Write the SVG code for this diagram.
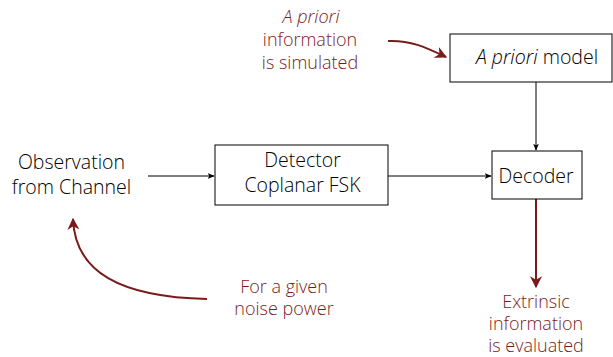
<svg xmlns="http://www.w3.org/2000/svg" width="613" height="357" viewBox="0 0 613 357">
<style>
text{font-family:"Open Sans","Noto Sans","Liberation Sans",sans-serif;font-size:19.5px;font-weight:300;text-anchor:middle;fill:#000}
text.red{fill:#7b1a1a;font-size:18px}
.box{fill:#fff;stroke:#000;stroke-width:1}
.ln{fill:none;stroke:#000;stroke-width:1}
.rl{fill:none;stroke:#7b1a1a;stroke-width:2}
</style>
<defs>
<marker id="ab" viewBox="0 0 10 10" refX="9" refY="5" markerWidth="7" markerHeight="7" markerUnits="userSpaceOnUse" orient="auto"><path d="M0,1 L10,5 L0,9 L2.5,5 Z" fill="#000"/></marker>
<marker id="ar" viewBox="0 0 10 10" refX="9" refY="5" markerWidth="6" markerHeight="6" orient="auto"><path d="M0,0 L10,5 L0,10 L3,5 Z" fill="#7b1a1a"/></marker>
</defs>
<g id="connectors">
<line class="ln" x1="148" y1="176" x2="214" y2="176" marker-end="url(#ab)"/>
<line class="ln" x1="388" y1="176" x2="491" y2="176" marker-end="url(#ab)"/>
<line class="ln" x1="536" y1="82" x2="536" y2="150" marker-end="url(#ab)"/>
<line class="rl" x1="536" y1="199" x2="536" y2="287" marker-end="url(#ar)"/>
<path class="rl" d="M388,41 C410,40 425,47 446,57" marker-end="url(#ar)"/>
<path class="rl" d="M207,299 C120,297 75,272 73,219" marker-end="url(#ar)"/>
</g>
<g id="observation">
<text x="71.5" y="169">Observation</text>
<text x="71.5" y="194">from Channel</text>
</g>
<g id="detector">
<rect class="box" x="215" y="145" width="173" height="60"/>
<text x="302.5" y="167">Detector</text>
<text x="302.5" y="192">Coplanar FSK</text>
</g>
<g id="decoder">
<rect class="box" x="492" y="151" width="90" height="48"/>
<text x="536" y="183">Decoder</text>
</g>
<g id="apriori-model">
<rect class="box" x="450" y="34" width="162" height="48"/>
<text x="537" y="64"><tspan font-style="italic">A priori</tspan> model</text>
</g>
<g id="apriori-note">
<text class="red" x="311" y="23" font-style="italic">A priori</text>
<text class="red" x="310" y="46">information</text>
<text class="red" x="310" y="69">is simulated</text>
</g>
<g id="noise-note">
<text class="red" x="284" y="293">For a given</text>
<text class="red" x="284" y="315">noise power</text>
</g>
<g id="extrinsic-note">
<text class="red" x="536" y="308">Extrinsic</text>
<text class="red" x="536" y="330">information</text>
<text class="red" x="536" y="352">is evaluated</text>
</g>
</svg>
